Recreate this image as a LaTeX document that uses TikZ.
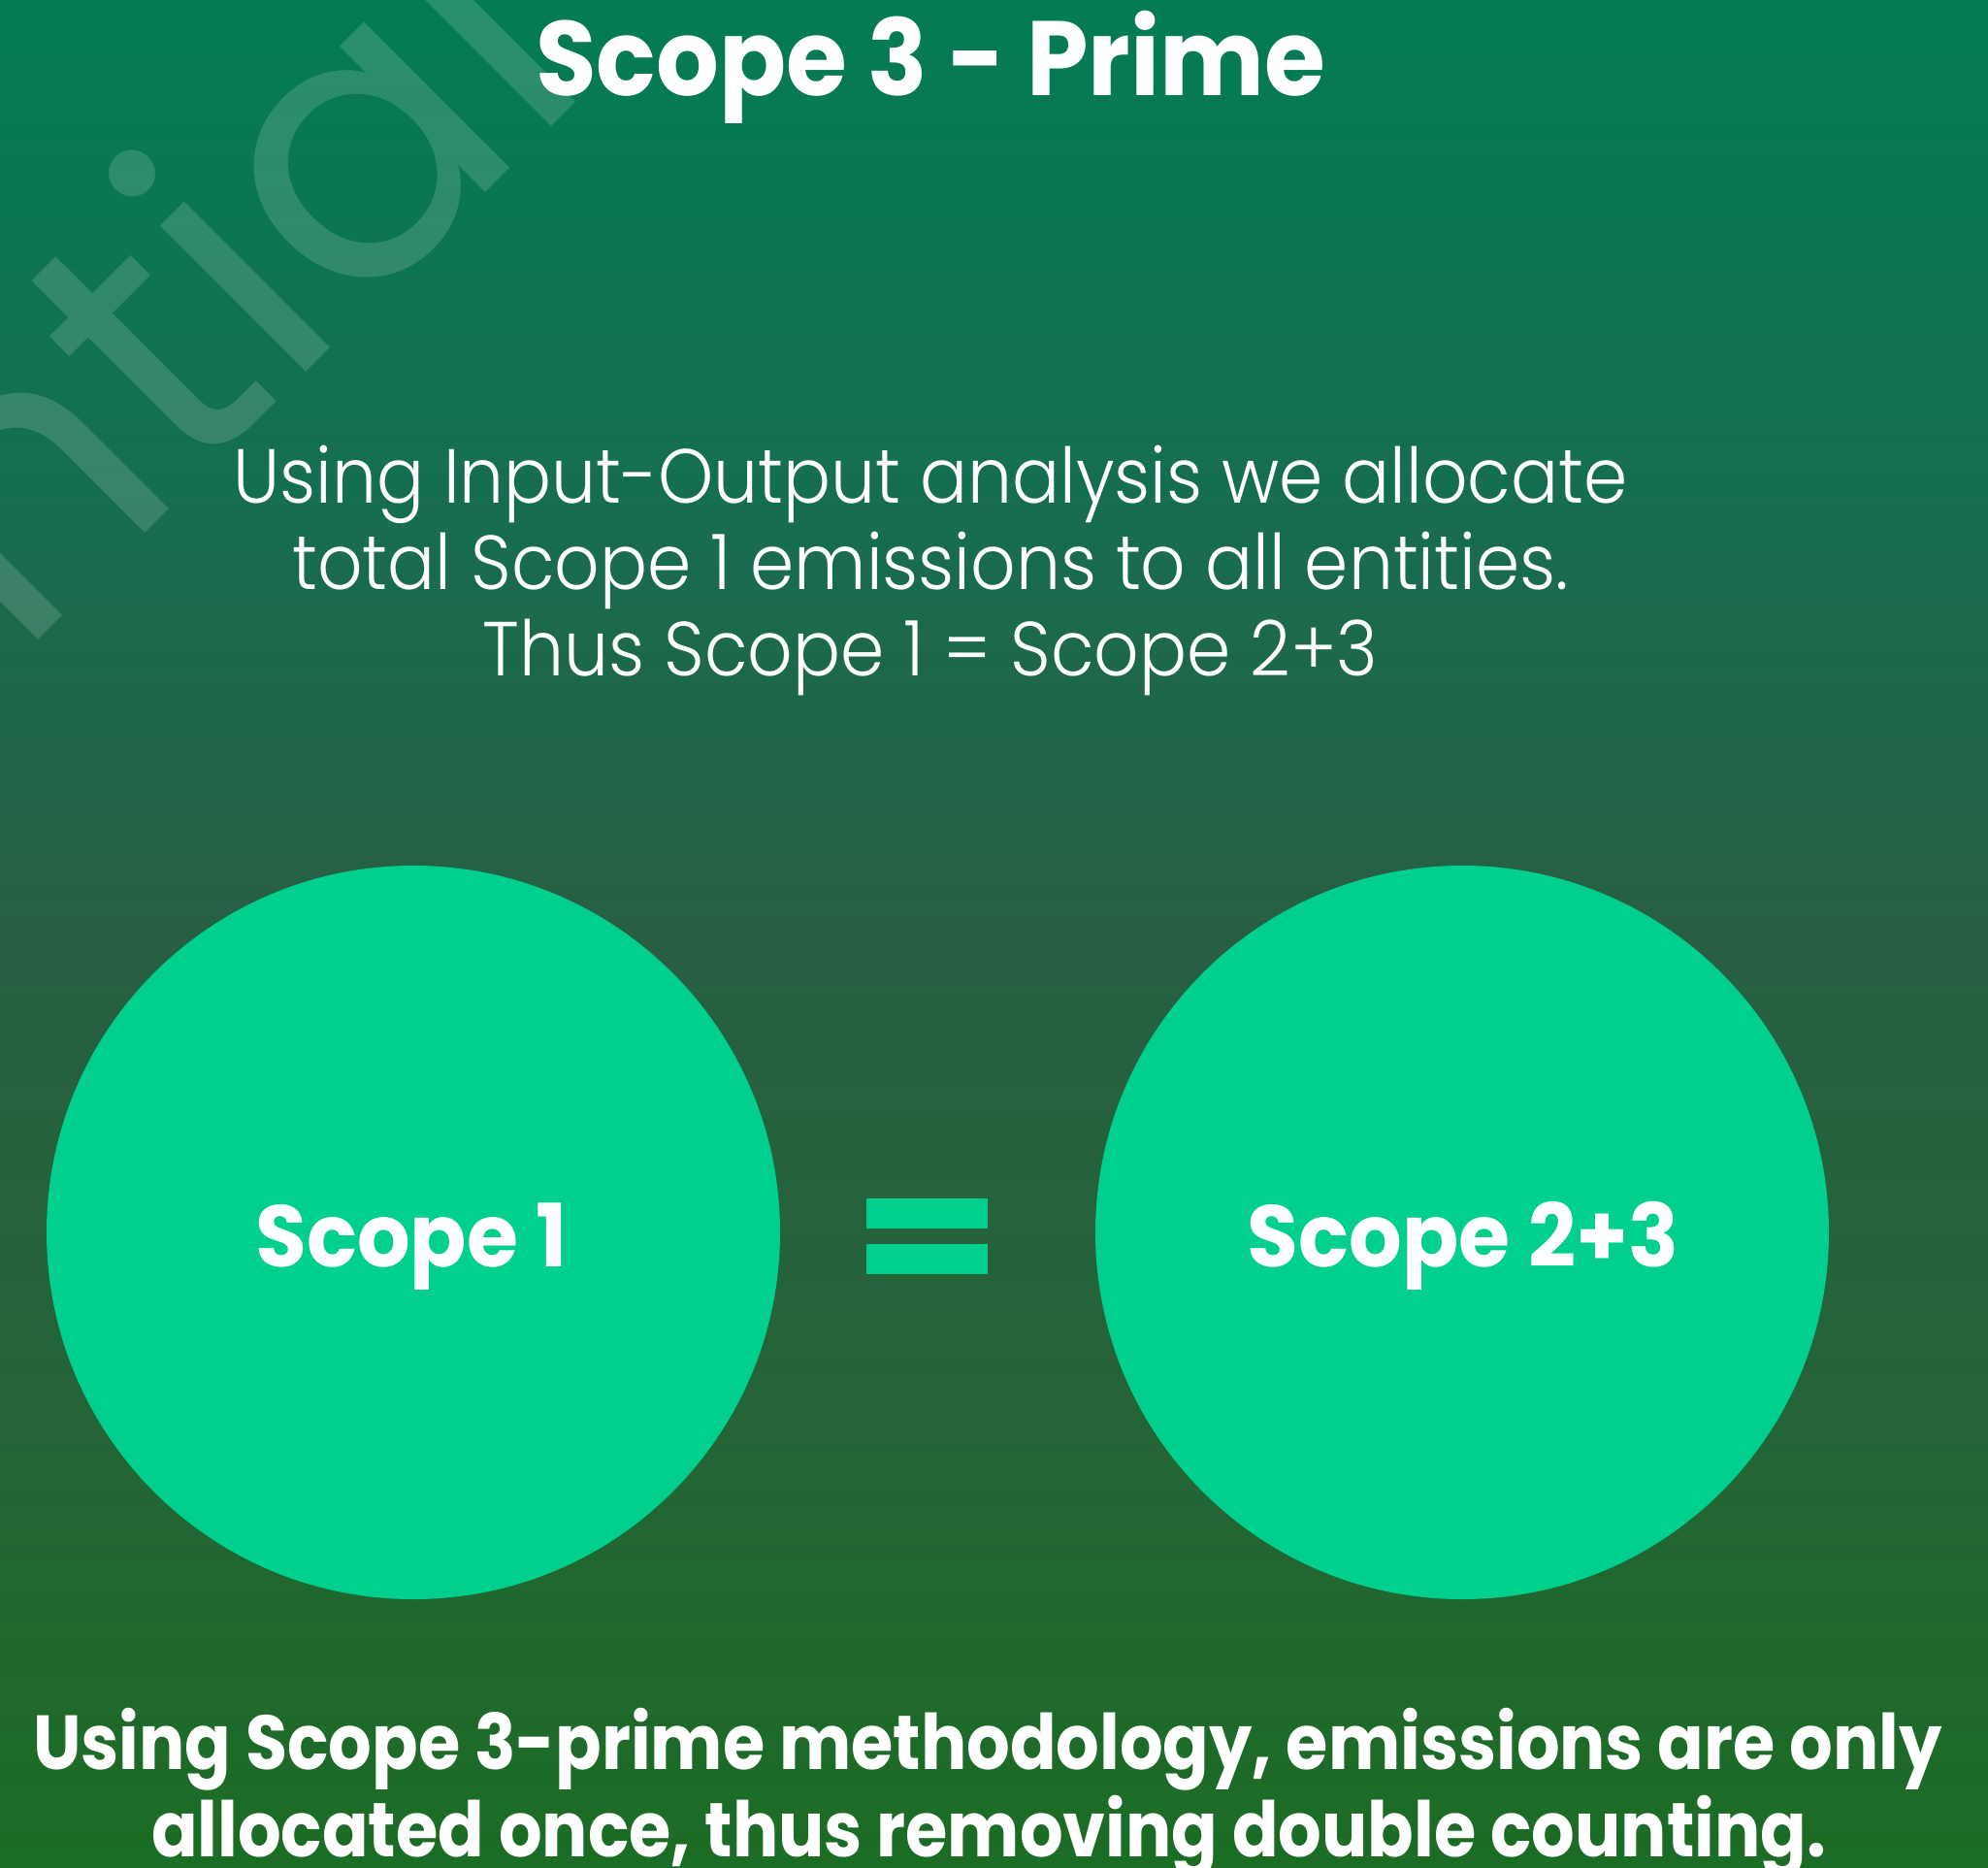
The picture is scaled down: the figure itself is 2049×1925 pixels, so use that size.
\documentclass[tikz,border=0pt]{standalone}
\usepackage{fontspec}
\setmainfont{Poppins}
\newfontfamily\plight{Poppins Light}
\definecolor{bgtop}{RGB}{3,124,84}
\definecolor{bgmidA}{RGB}{22,110,80}
\definecolor{bgmid}{RGB}{40,95,67}
\definecolor{bgmidB}{RGB}{36,100,55}
\definecolor{bgbot}{RGB}{27,108,36}
\definecolor{mint}{RGB}{0,207,141}
\pgfdeclareverticalshading{bgshade}{100bp}{color(0bp)=(bgbot); color(25bp)=(bgbot); color(37bp)=(bgmidB); color(50bp)=(bgmid); color(62bp)=(bgmidA); color(75bp)=(bgtop); color(100bp)=(bgtop)}
\tikzset{
  bubble/.style={circle, fill=mint, draw=none, minimum size=378pt, inner sep=0pt},
  bar/.style={rectangle, fill=mint, draw=none, minimum width=62.5pt, minimum height=15.5pt, inner sep=0pt},
  titletext/.style={text=white, font=\bfseries\fontsize{54.5}{60}\selectfont, anchor=base, inner sep=0pt, xscale=0.934},
  bodytext/.style={text=white, font=\plight\fontsize{39.5}{44}\selectfont, anchor=base, inner sep=0pt, xscale=0.92},
  labeltext/.style={text=white, font=\bfseries\fontsize{45}{50}\selectfont, anchor=base, inner sep=0pt, xscale=0.955},
  foottext/.style={text=white, font=\bfseries\fontsize{39.5}{44}\selectfont, anchor=base, inner sep=0pt, xscale=0.888},
  watermark/.style={text=white, text opacity=0.15, font=\fontsize{194}{200}\selectfont, anchor=base east, inner sep=0pt, rotate=45}
}
\begin{document}
\begin{tikzpicture}[x=0.5pt,y=-0.5pt]
\useasboundingbox (0,0) rectangle (2049,1925);
\shade[shading=bgshade] (0,0) rectangle (2049,1925);
\begin{scope}
\clip (0,0) rectangle (2049,1925);
\node[watermark] (wm) at (615,84) {Confidential};
\end{scope}
\node[titletext] (title) at (959,99) {Scope 3 - Prime};
\node[bodytext] (l1) at (959,518) {Using Input-Output analysis we allocate};
\node[bodytext] (l2) at (959,607) {total Scope 1 emissions to all entities.};
\node[bodytext] (l3) at (959,696) {Thus Scope 1 = Scope 2+3};
\node[bubble] (c1) at (426,1270) {};
\node[bubble] (c2) at (1507,1270) {};
\node[labeltext] (s1) at (424,1305) {Scope 1};
\node[labeltext] (s23) at (1508,1305) {Scope 2+3};
\node[bar] (eqa) at (955.5,1250.5) {};
\node[bar] (eqb) at (955.5,1297) {};
\node[foottext] (f1) at (1018,1823) {Using Scope 3-prime methodology, emissions are only};
\node[foottext] (f2) at (1019,1913) {allocated once, thus removing double counting.};
\end{tikzpicture}
\end{document}
